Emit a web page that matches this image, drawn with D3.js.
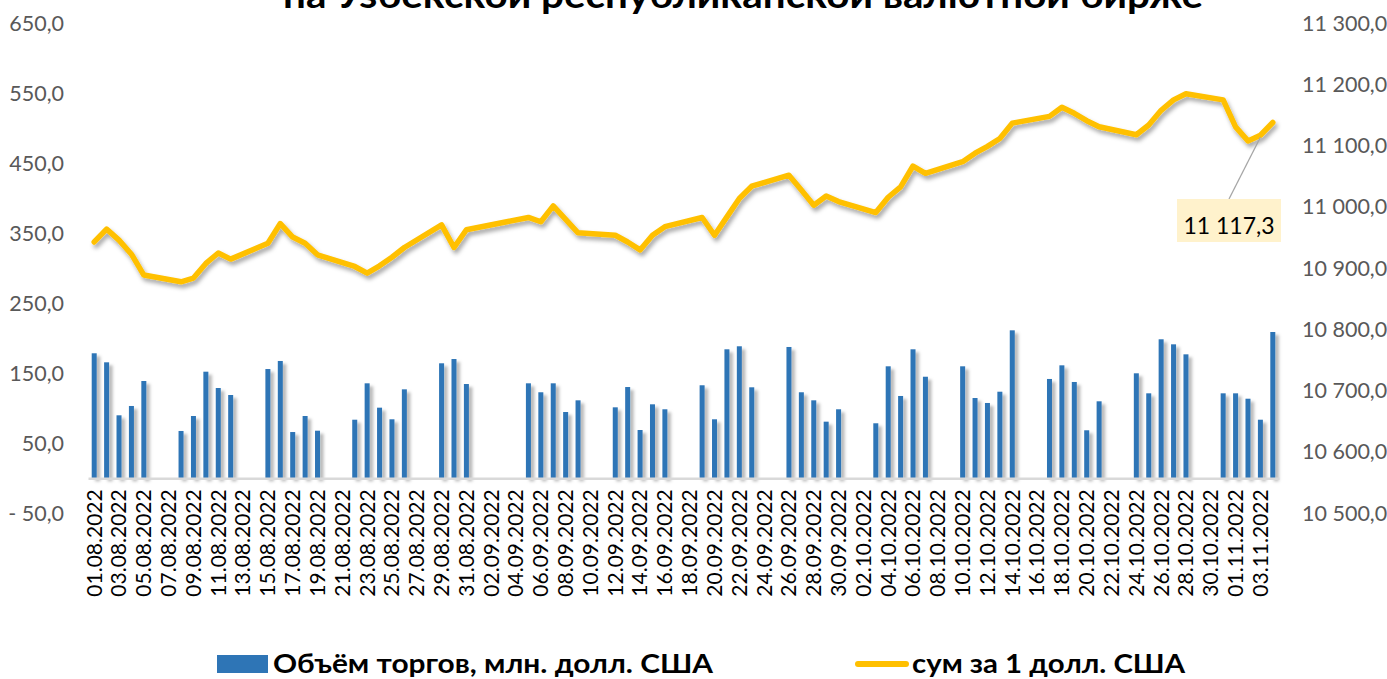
<!DOCTYPE html>
<html><head><meta charset="utf-8">
<script src="https://cdn.jsdelivr.net/npm/d3@7"></script>
<style>
html,body{margin:0;padding:0;background:#fff;}
svg{display:block;font-family:Lato,"Open Sans",sans-serif;}
</style></head><body>
<svg id="c" width="1387" height="679"></svg>
<script>
const dates = [
"01.08.2022","02.08.2022","03.08.2022","04.08.2022","05.08.2022","06.08.2022","07.08.2022","08.08.2022","09.08.2022","10.08.2022",
"11.08.2022","12.08.2022","13.08.2022","14.08.2022","15.08.2022","16.08.2022","17.08.2022","18.08.2022","19.08.2022","20.08.2022",
"21.08.2022","22.08.2022","23.08.2022","24.08.2022","25.08.2022","26.08.2022","27.08.2022","28.08.2022","29.08.2022","30.08.2022",
"31.08.2022","01.09.2022","02.09.2022","03.09.2022","04.09.2022","05.09.2022","06.09.2022","07.09.2022","08.09.2022","09.09.2022",
"10.09.2022","11.09.2022","12.09.2022","13.09.2022","14.09.2022","15.09.2022","16.09.2022","17.09.2022","18.09.2022","19.09.2022",
"20.09.2022","21.09.2022","22.09.2022","23.09.2022","24.09.2022","25.09.2022","26.09.2022","27.09.2022","28.09.2022","29.09.2022",
"30.09.2022","01.10.2022","02.10.2022","03.10.2022","04.10.2022","05.10.2022","06.10.2022","07.10.2022","08.10.2022","09.10.2022",
"10.10.2022","11.10.2022","12.10.2022","13.10.2022","14.10.2022","15.10.2022","16.10.2022","17.10.2022","18.10.2022","19.10.2022",
"20.10.2022","21.10.2022","22.10.2022","23.10.2022","24.10.2022","25.10.2022","26.10.2022","27.10.2022","28.10.2022","29.10.2022",
"30.10.2022","31.10.2022","01.11.2022","02.11.2022","03.11.2022","04.11.2022"];

// Объём торгов, млн. долл. США (null = нет торгов)
const volume = [
178.6,165.7,90.0,103.3,139.0,null,null,67.6,89.0,152.3,
129.0,119.0,null,null,156.1,167.6,66.1,89.0,68.0,null,
null,83.7,135.7,100.9,84.3,127.1,null,null,164.3,170.4,
134.7,null,null,null,null,135.7,122.9,135.7,94.7,111.4,
null,null,101.4,130.4,69.0,105.7,98.6,null,null,132.9,
84.3,184.3,188.6,130.0,null,null,187.6,122.9,111.4,80.9,
98.6,null,null,78.6,160.0,117.6,184.3,145.1,null,null,
160.0,114.7,107.6,123.7,211.4,null,null,141.9,161.4,137.6,
68.6,110.0,null,null,150.0,121.4,198.6,191.4,177.1,null,
null,121.4,121.4,113.7,83.7,209.0];

// сум за 1 долл. США
const rate = [
10943,10964,10946,10923,10889,null,null,10878,10884,10908,
10925,10915,null,null,10941,10973,10951,10941,10922,null,
null,10903,10892,10904,10918,10934,null,null,10971,10934,
10963,null,null,null,null,10983,10976,11002,10980,10958,
null,null,10954,10943,10930,10954,10968,null,null,10983,
10954,10984,11014,11034,null,null,11052,11028,11003,11018,
11009,null,null,10991,11016,11033,11067,11055,null,null,
11074,11088,11099,11112,11137,null,null,11148,11163,11153,
11141,11131,null,null,11118,11134,11158,11175,11185,null,
null,11175,11131,11108,11117.3,11138];

const leftTicks = [-50,50,150,250,350,450,550,650];
const rightTicks = [10500,10600,10700,10800,10900,11000,11100,11200,11300];
const titleText = "на Узбекской республиканской валютной бирже";
const legendBar = "Объём торгов, млн. долл. США";
const legendLine = "сум за 1 долл. США";
const labelIndex = 94; // 03.11.2022
const labelText = "11 117,3";

const svg = d3.select("#c");
const defs = svg.append("defs");
const f1 = defs.append("filter").attr("id","barShadow").attr("x","-50%").attr("y","-10%").attr("width","300%").attr("height","130%");
f1.append("feDropShadow").attr("dx",3.5).attr("dy",3).attr("stdDeviation",1.8).attr("flood-color","#000").attr("flood-opacity",0.28);
const f2 = defs.append("filter").attr("id","lineShadow").attr("x","-5%").attr("y","-20%").attr("width","110%").attr("height","150%");
f2.append("feDropShadow").attr("dx",2).attr("dy",3.5).attr("stdDeviation",2).attr("flood-color","#000").attr("flood-opacity",0.35);

const x = d3.scaleBand().domain(dates).range([88,1279]).padding(0);
const yL = d3.scaleLinear().domain([-50,650]).range([513.3,23.3]);
const yR = d3.scaleLinear().domain([10500,11300]).range([513.3,23.3]);
const bw = 5;

// title (only the lower line is visible, as in the reference)
svg.append("text").attr("x",743).attr("y",8).attr("text-anchor","middle")
  .attr("font-size",36).attr("font-weight","bold").attr("fill","#000")
  .attr("textLength",920).attr("lengthAdjust","spacingAndGlyphs").text(titleText);

const fmtL = v => (v<0 ? "- " + d3.format(".1f")(-v) : d3.format(".1f")(v)).replace(".",",");
const fmtR = v => { const s = d3.format(",.1f")(v); return s.replace(/,/g," ").replace(".",","); };

const axL = d3.axisLeft(yL).tickValues(leftTicks).tickSize(0).tickPadding(0).tickFormat(fmtL);
const gL = svg.append("g").attr("transform","translate(64,0)").call(axL);
gL.select(".domain").remove();
gL.selectAll("text").attr("font-size",21.5).attr("fill","#595959").attr("font-family","Lato,'Open Sans',sans-serif").attr("dy","0.32em");

const axR = d3.axisRight(yR).tickValues(rightTicks).tickSize(0).tickPadding(0).tickFormat(fmtR);
const gR = svg.append("g").attr("transform","translate(1302,0)").call(axR);
gR.select(".domain").remove();
gR.selectAll("text").attr("font-size",21.5).attr("fill","#595959").attr("font-family","Lato,'Open Sans',sans-serif").attr("dy","0.32em");

// bars
svg.append("g").attr("filter","url(#barShadow)")
 .selectAll("rect").data(dates.map((d,i)=>({d,v:volume[i]})).filter(e=>e.v!=null))
 .join("rect")
 .attr("x",e=>x(e.d)+x.bandwidth()/2-bw/2)
 .attr("width",bw)
 .attr("y",e=>yL(e.v))
 .attr("height",e=>yL(0)-yL(e.v))
 .attr("fill","#2E75B6");

// category axis at 0
const axB = d3.axisBottom(x).tickValues(dates.filter((d,i)=>i%2===0)).tickSize(0).tickPadding(0);
const gB = svg.append("g").attr("transform",`translate(0,${yL(0)})`).call(axB);
gB.select(".domain").attr("stroke","#d9d9d9").attr("stroke-width",2.5);
gB.selectAll("text")
  .attr("font-size",21).attr("fill","#000").attr("font-family","Lato,'Open Sans',sans-serif")
  .attr("text-anchor","end")
  .attr("transform","translate(0,11) rotate(-90)")
  .attr("x",0).attr("y",0).attr("dy","0.35em");

// line
const pts = dates.map((d,i)=>({d,v:rate[i]})).filter(e=>e.v!=null);
const line = d3.line().x(e=>x(e.d)+x.bandwidth()/2).y(e=>yR(e.v));
svg.append("path").datum(pts).attr("d",line)
  .attr("fill","none").attr("stroke","#FFC000").attr("stroke-width",5.5)
  .attr("stroke-linejoin","round").attr("stroke-linecap","round")
  .attr("filter","url(#lineShadow)");

// data label
const px = x(dates[labelIndex])+x.bandwidth()/2, py = yR(rate[labelIndex]);
svg.append("line").attr("x1",1229).attr("y1",199).attr("x2",px).attr("y2",py+2)
  .attr("stroke","#a6a6a6").attr("stroke-width",1.3);
svg.append("rect").attr("x",1177).attr("y",199).attr("width",104).attr("height",43).attr("fill","#FFF2CC");
svg.append("text").attr("x",1229).attr("y",234).attr("text-anchor","middle")
  .attr("font-size",23).attr("fill","#000").text(labelText);

// legend
svg.append("rect").attr("x",217).attr("y",655).attr("width",51).attr("height",18).attr("fill","#2E75B6");
svg.append("text").attr("x",273).attr("y",673).attr("font-size",26).attr("font-weight","bold").attr("fill","#000")
  .attr("textLength",440).attr("lengthAdjust","spacingAndGlyphs").text(legendBar);
svg.append("line").attr("x1",858).attr("x2",906).attr("y1",664).attr("y2",664)
  .attr("stroke","#FFC000").attr("stroke-width",6).attr("stroke-linecap","round");
svg.append("text").attr("x",912).attr("y",673).attr("font-size",26).attr("font-weight","bold").attr("fill","#000")
  .attr("textLength",273).attr("lengthAdjust","spacingAndGlyphs").text(legendLine);
</script>
</body></html>
